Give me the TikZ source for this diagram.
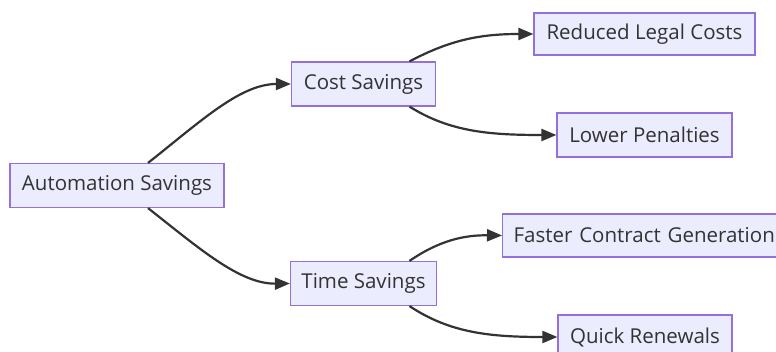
\documentclass[tikz,border=0pt]{standalone}
\usepackage{fontspec}
\setmainfont{Open Sans}
\usetikzlibrary{arrows.meta}
\definecolor{boxfill}{HTML}{ECECFF}
\definecolor{boxline}{HTML}{9370DB}
\definecolor{ink}{HTML}{333333}
\tikzset{
  box/.style={draw=boxline, fill=boxfill, line width=1.2pt, inner sep=0pt,
    minimum height=44pt, text=ink, font=\fontsize{20.5}{24}\selectfont, anchor=center},
  link/.style={draw=ink, line width=2.2pt, -{Triangle[length=15pt,width=12pt]}}
}
\begin{document}
\begin{tikzpicture}[x=1pt,y=-1pt]
\useasboundingbox (0,0) rectangle (776,352);
\clip (0,0) rectangle (776,352);
\fill[white] (0,0) rectangle (776,352);
\node[box, minimum width=214pt] (auto) at (117,185.5) {Automation Savings};
\node[box, minimum width=144pt] (cost) at (363.5,84) {Cost Savings};
\node[box, minimum width=146pt] (time) at (363.5,283.5) {Time Savings};
\node[box, minimum width=221pt, minimum height=42pt] (legal) at (644.5,34) {Reduced Legal Costs};
\node[box, minimum width=175pt] (pen) at (644.5,135) {Lower Penalties};
\node[box, anchor=west, inner xsep=11pt, text width=270pt, align=left, minimum height=43pt] (fast) at (502,235.5) {Faster Contract Generation};
\node[box, minimum width=174pt] (quick) at (645,337) {Quick Renewals};
\draw[link] ([xshift=31pt]auto.north) .. controls (200,122) and (240,84) .. (cost.west);
\draw[link] ([xshift=31pt]auto.south) .. controls (200,249) and (240,284) .. (time.west);
\draw[link] ([xshift=46pt]cost.north) .. controls (450,40) and (480,34) .. (legal.west);
\draw[link] ([xshift=46pt]cost.south) .. controls (450,132) and (490,135) .. (pen.west);
\draw[link] ([xshift=46pt]time.north) .. controls (440,240) and (465,235) .. (fast.west);
\draw[link] ([xshift=46pt]time.south) .. controls (450,333) and (490,337) .. (quick.west);
\end{tikzpicture}
\end{document}
